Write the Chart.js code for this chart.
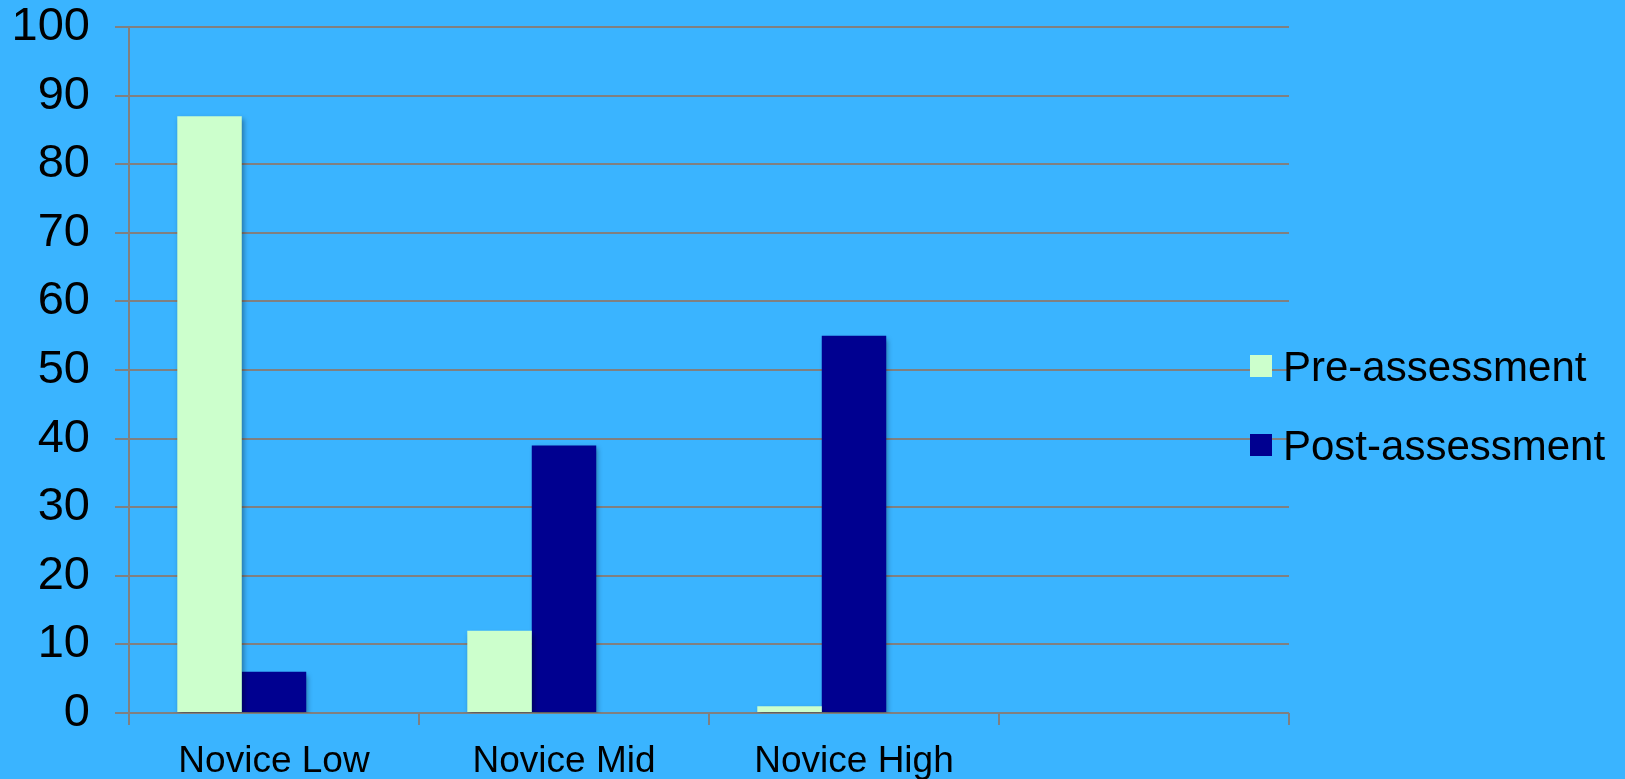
<!DOCTYPE html>
<html>
<head>
<meta charset="utf-8">
<script src="https://cdn.jsdelivr.net/npm/chart.js@4.4.0/dist/chart.umd.min.js"></script>
<style>
  html, body { margin: 0; padding: 0; background: #3AB4FF; overflow: hidden; }
  #wrap { position: relative; width: 1625px; height: 779px; }
  #c { position: absolute; left: 0; top: 0; }
  .lg-box { position: absolute; width: 22px; height: 22px; }
  .lg-text { position: absolute; font-family: 'Liberation Sans', Arial, sans-serif; font-size: 42px; line-height: 42px; color: #000; white-space: nowrap; }
</style>
</head>
<body>
<div id="wrap">
  <canvas id="c" width="1625" height="779"></canvas>
  <div id="legend"></div>
</div>
<script>
// ---- data ----
const categories = ['Novice Low', 'Novice Mid', 'Novice High', ''];
const preAssessment = [87, 12, 1, null];
const postAssessment = [6, 39, 55, null];
const emptySeries = [null, null, null, null];
const seriesNames = ['Pre-assessment', 'Post-assessment'];
const seriesColors = ['#CCFFCC', '#000090'];
const yTicks = [0, 10, 20, 30, 40, 50, 60, 70, 80, 90, 100];

const FONT = "'Liberation Sans', Arial, sans-serif";
const GRID = '#808080';

const shadowPlugin = {
  id: 'barShadow',
  beforeDatasetsDraw(chart) {
    const ctx = chart.ctx;
    ctx.save();
    ctx.shadowColor = 'rgba(0,0,0,0.35)';
    ctx.shadowBlur = 5;
    ctx.shadowOffsetX = 2;
    ctx.shadowOffsetY = 3;
  },
  afterDatasetsDraw(chart) {
    chart.ctx.restore();
  }
};

const chart = new Chart(document.getElementById('c'), {
  type: 'bar',
  data: {
    labels: categories,
    datasets: [
      { label: seriesNames[0], data: preAssessment, backgroundColor: seriesColors[0], borderWidth: 0 },
      { label: seriesNames[1], data: postAssessment, backgroundColor: seriesColors[1], borderWidth: 0 },
      { label: '', data: emptySeries, backgroundColor: 'rgba(0,0,0,0)', borderWidth: 0 }
    ]
  },
  plugins: [shadowPlugin],
  options: {
    responsive: false,
    animation: false,
    devicePixelRatio: 1,
    layout: { padding: { left: 0, right: 336, top: 27, bottom: 0 } },
    datasets: { bar: { categoryPercentage: 0.667, barPercentage: 1.0 } },
    plugins: { legend: { display: false }, tooltip: { enabled: false } },
    scales: {
      x: {
        afterFit(scale) { scale.height = 66; scale.paddingLeft = 0; scale.paddingRight = 0; },
        grid: { drawOnChartArea: false, drawTicks: true, tickLength: 12, color: GRID, lineWidth: 2, offset: true },
        border: { display: false },
        ticks: { color: '#000', font: { family: FONT, size: 37 }, padding: 14.5, maxRotation: 0, autoSkip: false }
      },
      y: {
        min: 0, max: 100,
        afterFit(scale) { scale.width = 129; scale.paddingTop = 0; scale.paddingBottom = 0; },
        afterBuildTicks(scale) { scale.ticks = yTicks.map(v => ({ value: v })); },
        grid: { color: GRID, lineWidth: 2, tickLength: 14, drawTicks: true },
        border: { display: true, color: GRID, width: 2 },
        ticks: { color: '#000', font: { family: FONT, size: 47 }, padding: 25 }
      }
    }
  }
});

// HTML legend built from series arrays
const legend = document.getElementById('legend');
const legendTops = [355, 434];
seriesNames.forEach((name, i) => {
  const box = document.createElement('div');
  box.className = 'lg-box';
  box.style.left = '1250px';
  box.style.top = legendTops[i] + 'px';
  box.style.background = seriesColors[i];
  legend.appendChild(box);
  const t = document.createElement('div');
  t.className = 'lg-text';
  t.style.left = '1283px';
  t.style.top = (legendTops[i] - 9) + 'px';
  t.textContent = name;
  legend.appendChild(t);
});
</script>
</body>
</html>
